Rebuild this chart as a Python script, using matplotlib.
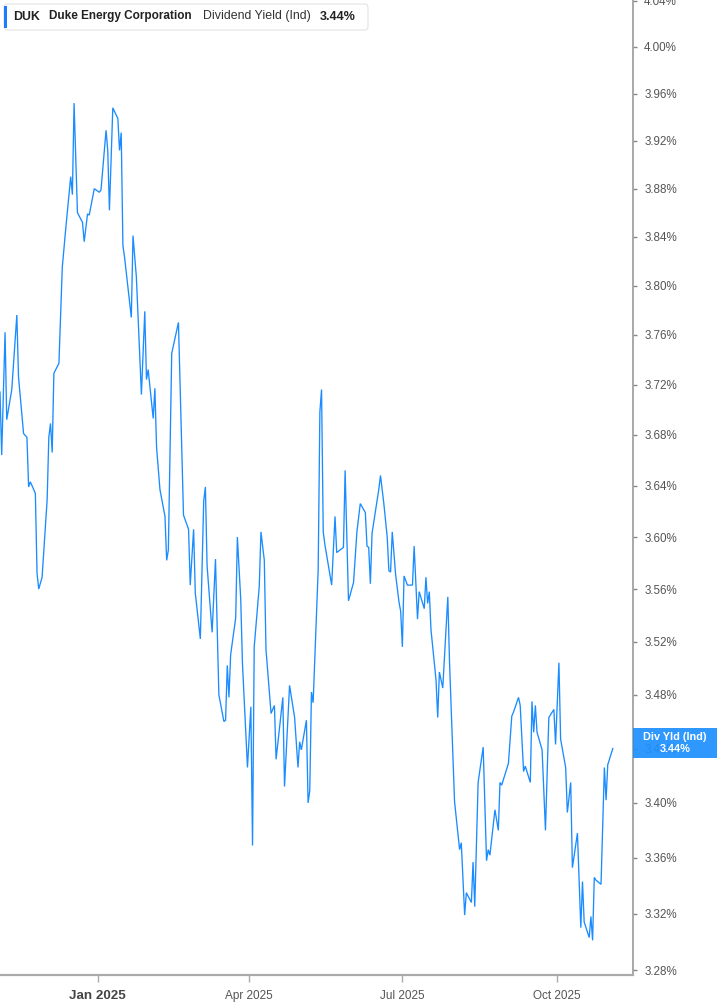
import matplotlib
matplotlib.use("Agg")
import matplotlib.pyplot as plt
from matplotlib.ticker import FixedLocator, FuncFormatter, NullLocator
from matplotlib.patches import FancyBboxPatch, Rectangle
import pandas as pd

plt.rcParams['font.family'] = ['Liberation Sans', 'DejaVu Sans']

# ---------------- data ----------------
dates = [
    "2024-11-04", "2024-11-05", "2024-11-07", "2024-11-08", "2024-11-11", "2024-11-14", "2024-11-15",
    "2024-11-18", "2024-11-20", "2024-11-21", "2024-11-22", "2024-11-25", "2024-11-26", "2024-11-27",
    "2024-11-29", "2024-12-02", "2024-12-03", "2024-12-04", "2024-12-05", "2024-12-06", "2024-12-09",
    "2024-12-11", "2024-12-13", "2024-12-16", "2024-12-17", "2024-12-18", "2024-12-20", "2024-12-23",
    "2024-12-24", "2024-12-26", "2024-12-27", "2024-12-30", "2025-01-02", "2025-01-03", "2025-01-06",
    "2025-01-07", "2025-01-08", "2025-01-10", "2025-01-13", "2025-01-14", "2025-01-15", "2025-01-16",
    "2025-01-17", "2025-01-21", "2025-01-22", "2025-01-24", "2025-01-27", "2025-01-29", "2025-01-30",
    "2025-01-31", "2025-02-03", "2025-02-04", "2025-02-05", "2025-02-07", "2025-02-10", "2025-02-11",
    "2025-02-12", "2025-02-14", "2025-02-18", "2025-02-21", "2025-02-24", "2025-02-25", "2025-02-27",
    "2025-02-28", "2025-03-03", "2025-03-05", "2025-03-06", "2025-03-07", "2025-03-10", "2025-03-12",
    "2025-03-14", "2025-03-17", "2025-03-18", "2025-03-19", "2025-03-20", "2025-03-21", "2025-03-24",
    "2025-03-25", "2025-03-27", "2025-03-28", "2025-03-31", "2025-04-02", "2025-04-03", "2025-04-04",
    "2025-04-07", "2025-04-08", "2025-04-10", "2025-04-11", "2025-04-14", "2025-04-16", "2025-04-17",
    "2025-04-21", "2025-04-22", "2025-04-25", "2025-04-28", "2025-04-30", "2025-05-01", "2025-05-02",
    "2025-05-05", "2025-05-06", "2025-05-07", "2025-05-08", "2025-05-09", "2025-05-12", "2025-05-13",
    "2025-05-14", "2025-05-15", "2025-05-16", "2025-05-20", "2025-05-22", "2025-05-23", "2025-05-27",
    "2025-05-28", "2025-05-30", "2025-06-02", "2025-06-04", "2025-06-06", "2025-06-09", "2025-06-10",
    "2025-06-11", "2025-06-12", "2025-06-13", "2025-06-17", "2025-06-18", "2025-06-20", "2025-06-22",
    "2025-06-23", "2025-06-24", "2025-06-25", "2025-06-27", "2025-06-29", "2025-06-30", "2025-07-01",
    "2025-07-02", "2025-07-04", "2025-07-07", "2025-07-08", "2025-07-10", "2025-07-11", "2025-07-14",
    "2025-07-15", "2025-07-16", "2025-07-17", "2025-07-18", "2025-07-21", "2025-07-22", "2025-07-23",
    "2025-07-25", "2025-07-28", "2025-07-29", "2025-08-01", "2025-08-04", "2025-08-05", "2025-08-07",
    "2025-08-08", "2025-08-11", "2025-08-12", "2025-08-13", "2025-08-15", "2025-08-18", "2025-08-20",
    "2025-08-21", "2025-08-22", "2025-08-25", "2025-08-27", "2025-08-28", "2025-08-29", "2025-09-02",
    "2025-09-04", "2025-09-05", "2025-09-08", "2025-09-09", "2025-09-11", "2025-09-12", "2025-09-15",
    "2025-09-16", "2025-09-17", "2025-09-18", "2025-09-19", "2025-09-22", "2025-09-24", "2025-09-26",
    "2025-09-29", "2025-09-30", "2025-10-02", "2025-10-03", "2025-10-06", "2025-10-07", "2025-10-09",
    "2025-10-10", "2025-10-13", "2025-10-15", "2025-10-16", "2025-10-17", "2025-10-20", "2025-10-21",
    "2025-10-22", "2025-10-23", "2025-10-24", "2025-10-27", "2025-10-29", "2025-10-30", "2025-10-31",
    "2025-11-03",
]

div_yield = [
    3.714, 3.664, 3.762, 3.692, 3.716, 3.776, 3.726,
    3.681, 3.678, 3.639, 3.643, 3.634, 3.572, 3.560,
    3.569, 3.629, 3.678, 3.689, 3.666, 3.729, 3.737,
    3.815, 3.846, 3.890, 3.875, 3.952, 3.860, 3.852,
    3.836, 3.859, 3.858, 3.880, 3.877, 3.879, 3.929,
    3.912, 3.862, 3.948, 3.939, 3.912, 3.927, 3.833,
    3.823, 3.774, 3.841, 3.807, 3.712, 3.779, 3.724,
    3.732, 3.693, 3.717, 3.670, 3.637, 3.616, 3.582,
    3.590, 3.745, 3.770, 3.617, 3.606, 3.563, 3.606,
    3.557, 3.522, 3.628, 3.639, 3.578, 3.527, 3.583,
    3.480, 3.460, 3.461, 3.502, 3.478, 3.510, 3.538,
    3.600, 3.552, 3.504, 3.426, 3.471, 3.369, 3.516,
    3.562, 3.604, 3.582, 3.514, 3.466, 3.472, 3.432,
    3.478, 3.412, 3.487, 3.463, 3.426, 3.445, 3.439,
    3.461, 3.400, 3.409, 3.482, 3.474, 3.575, 3.698,
    3.716, 3.604, 3.594, 3.563, 3.616, 3.588, 3.592,
    3.652, 3.551, 3.565, 3.604, 3.626, 3.619, 3.593,
    3.592, 3.564, 3.603, 3.637, 3.648, 3.626, 3.600,
    3.574, 3.573, 3.604, 3.571, 3.550, 3.543, 3.516,
    3.570, 3.563, 3.563, 3.593, 3.537, 3.558, 3.545,
    3.569, 3.549, 3.558, 3.529, 3.491, 3.463, 3.497,
    3.485, 3.554, 3.505, 3.401, 3.366, 3.371, 3.319,
    3.335, 3.328, 3.357, 3.325, 3.415, 3.441, 3.358,
    3.366, 3.362, 3.395, 3.380, 3.415, 3.413, 3.429,
    3.464, 3.467, 3.478, 3.472, 3.423, 3.427, 3.415,
    3.475, 3.452, 3.472, 3.452, 3.439, 3.380, 3.463,
    3.469, 3.443, 3.504, 3.447, 3.426, 3.393, 3.415,
    3.353, 3.378, 3.310, 3.343, 3.314, 3.303, 3.318,
    3.301, 3.346, 3.344, 3.341, 3.426, 3.402, 3.428,
    3.440,
]

y_ticks = [3.28, 3.32, 3.36, 3.40, 3.44, 3.48, 3.52, 3.56, 3.60, 3.64, 3.68,
           3.72, 3.76, 3.80, 3.84, 3.88, 3.92, 3.96, 4.00, 4.04]
x_tick_dates = ["2025-01-01", "2025-04-01", "2025-07-01", "2025-10-01"]
x_tick_labels = ["Jan 2025", "Apr 2025", "Jul 2025", "Oct 2025"]

ticker_sym = "DUK"
company = "Duke Energy Corporation"
metric = "Dividend Yield (Ind)"
last_value_label = "3.44%"
end_label = "Div Yld (Ind)"

# ---------------- figure ----------------
W, H = 717, 1005
fig = plt.figure(figsize=(W / 100, H / 100), dpi=100)
ax = fig.add_axes([0, 1 - 975 / H, 633 / W, 975 / H])

line_color = "#1a8cff"
x = pd.to_datetime(dates)
ax.plot(x, div_yield, color=line_color, lw=0.95, solid_joinstyle="miter")

ax.set_yscale("log")
ax.set_ylim(3.2765, 4.0406)
ax.set_xlim(pd.Timestamp("2024-11-04"), pd.Timestamp("2025-11-15"))

ax.yaxis.set_major_locator(FixedLocator(y_ticks))
ax.yaxis.set_minor_locator(NullLocator())
ax.yaxis.set_major_formatter(FuncFormatter(lambda v, p: f"{v:.2f}%"))
ax.yaxis.tick_right()
ax.tick_params(axis="y", which="major", length=3, width=1, color="#888888",
               labelsize=8.4, labelcolor="#555555", pad=5)

xt = pd.to_datetime(x_tick_dates)
ax.set_xticks(xt)
ax.set_xticklabels(x_tick_labels)
ax.xaxis.set_minor_locator(NullLocator())
ax.tick_params(axis="x", which="major", length=5, width=1, color="#aaaaaa",
               labelsize=8.5, labelcolor="#555555", pad=6)
for lbl in ax.get_xticklabels():
    if lbl.get_text().startswith("Jan"):
        lbl.set_fontweight("bold")
        lbl.set_fontsize(9.6)
        lbl.set_color("#444444")

for s in ["left", "top"]:
    ax.spines[s].set_visible(False)
ax.spines["right"].set_color("#999999")
ax.spines["right"].set_linewidth(1.2)
ax.spines["bottom"].set_color("#aaaaaa")
ax.spines["bottom"].set_linewidth(1.6)

# ---------------- header legend box ----------------
def fx(px):
    return px / W

def fy(py):
    return 1 - py / H

box = FancyBboxPatch((fx(4), fy(30)), fx(364), 26 / H,
                     boxstyle="round,pad=0,rounding_size=0.004",
                     transform=fig.transFigure, facecolor="white",
                     edgecolor="#e3e3e3", linewidth=0.8, zorder=5)
fig.patches.append(box)
bar = Rectangle((fx(4), fy(28)), fx(3), 22 / H, transform=fig.transFigure,
                facecolor="#1a7dff", edgecolor="none", zorder=6)
fig.patches.append(bar)

ty = fy(16.5)
fig.text(fx(13), ty, ticker_sym, fontsize=8.9, fontweight="bold", color="#222222",
         va="center", ha="left", zorder=7)
fig.text(fx(49), ty, company, fontsize=8.5, fontweight="bold", color="#222222",
         va="center", ha="left", zorder=7)
fig.text(fx(203), ty, metric, fontsize=8.9, color="#333333",
         va="center", ha="left", zorder=7)
fig.text(fx(320), ty, last_value_label, fontsize=9.0, fontweight="bold", color="#222222",
         va="center", ha="left", zorder=7)

# ---------------- end value label ----------------
endbox = Rectangle((fx(633), fy(758)), fx(84), 30 / H, transform=fig.transFigure,
                   facecolor="#1e90ff", edgecolor="none", alpha=0.93, zorder=5)
fig.patches.append(endbox)
fig.text(fx(675), fy(736.5), end_label, fontsize=7.8, fontweight="bold", color="white",
         va="center", ha="center", zorder=7)
fig.text(fx(675), fy(748.5), last_value_label, fontsize=7.8, fontweight="bold", color="white",
         va="center", ha="center", zorder=7)

fig.savefig("out.png", dpi=100, facecolor="white")
